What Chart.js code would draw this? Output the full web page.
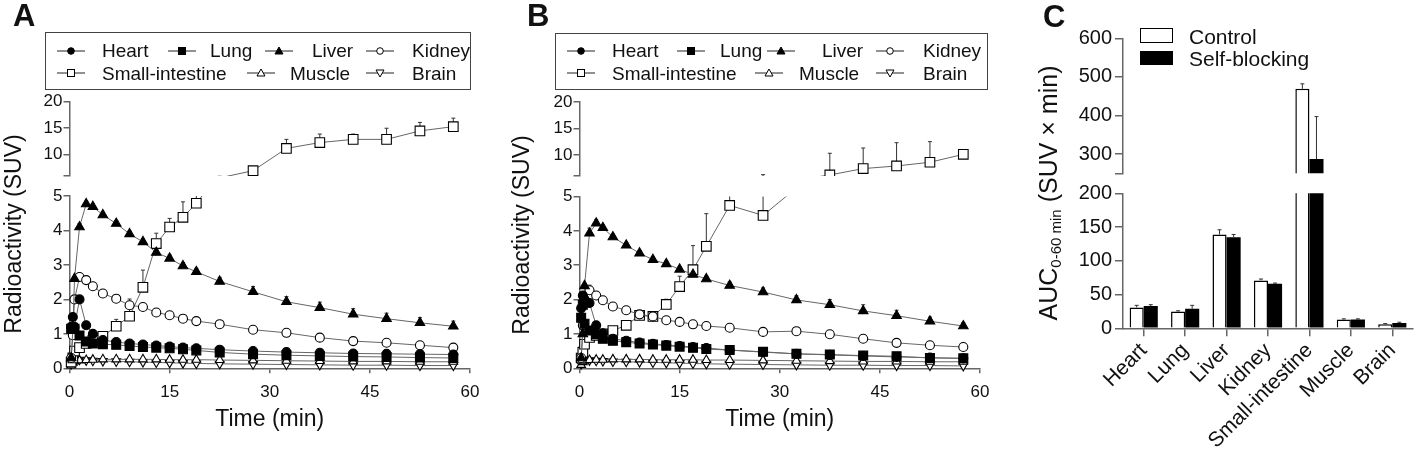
<!DOCTYPE html>
<html>
<head>
<meta charset="utf-8">
<title>Biodistribution</title>
<script src="https://cdn.jsdelivr.net/npm/chart.js@4.4.1/dist/chart.umd.min.js"></script>
<style>
  html, body { margin: 0; padding: 0; background: #fff; }
  body { position: relative; width: 1416px; height: 461px; overflow: hidden;
         font-family: "Liberation Sans", Arial, sans-serif; color: #111; }
  canvas { position: absolute; left: 0; top: 0; }
  .txt { position: absolute; line-height: 1; white-space: nowrap; }
  .letter { font-weight: bold; font-size: 31px; }
  .legend { position: absolute; border: 1.5px solid #444; box-sizing: border-box; }
  .ytitle { position: absolute; line-height: 1; white-space: nowrap; transform: translate(-50%, -50%) rotate(-90deg); }
</style>
</head>
<body>
<script>
// ---- data ----
const organs = ['Heart', 'Lung', 'Liver', 'Kidney', 'Small-intestine', 'Muscle', 'Brain'];
const times = [0.25, 0.5, 0.75, 1.5, 2.5, 3.5, 5, 7, 9, 11, 13, 15, 17, 19, 22.5, 27.5, 32.5, 37.5, 42.5, 47.5, 52.5, 57.5];

// panel A (control)
const heartA  = [1.2, 1.49, 1.2, 2.0, 1.25, 1.0, 0.82, 0.76, 0.72, 0.69, 0.66, 0.63, 0.6, 0.58, 0.54, 0.5, 0.47, 0.45, 0.43, 0.42, 0.41, 0.4];
const lungA   = [1.15, 1.18, 1.15, 0.95, 0.78, 0.72, 0.7, 0.68, 0.65, 0.62, 0.6, 0.58, 0.55, 0.52, 0.46, 0.41, 0.38, 0.36, 0.34, 0.33, 0.31, 0.3];
const liverA  = [0.3, 1.1, 2.6, 4.1, 4.77, 4.69, 4.45, 4.2, 3.9, 3.67, 3.36, 3.19, 2.97, 2.8, 2.52, 2.22, 1.93, 1.76, 1.57, 1.44, 1.32, 1.22];
const kidneyA = [0.3, 0.96, 2.0, 2.65, 2.56, 2.38, 2.17, 2.02, 1.83, 1.78, 1.62, 1.54, 1.44, 1.37, 1.28, 1.12, 1.03, 0.89, 0.79, 0.74, 0.67, 0.6];
const siA     = [0.18, 0.3, 0.5, 0.6, 0.72, 0.81, 0.93, 1.22, 1.51, 2.35, 3.62, 4.1, 4.38, 4.79, 5.65, 7.0, 11.2, 12.3, 12.9, 12.9, 14.5, 15.3];
const muscleA = [0.08, 0.16, 0.2, 0.23, 0.24, 0.25, 0.26, 0.26, 0.26, 0.26, 0.26, 0.25, 0.25, 0.25, 0.24, 0.23, 0.22, 0.21, 0.2, 0.2, 0.19, 0.19];
const brainA  = [0.12, 0.22, 0.26, 0.25, 0.23, 0.22, 0.21, 0.2, 0.19, 0.18, 0.17, 0.16, 0.15, 0.14, 0.13, 0.12, 0.11, 0.1, 0.09, 0.09, 0.08, 0.08];
const liverErrA  = [0, 0, 0, 0.1, 0.08, 0.08, 0.08, 0.08, 0.08, 0.08, 0.08, 0.1, 0.1, 0.1, 0.12, 0.15, 0.15, 0.16, 0.16, 0.16, 0.15, 0.15];
const kidneyErrA = [0, 0, 0, 0.05, 0.05, 0.05, 0.05, 0.05, 0.05, 0.05, 0.05, 0.05, 0.05, 0.08, 0.05, 0.05, 0.05, 0.05, 0.05, 0.05, 0.05, 0.05];
const siErrA     = [0, 0, 0, 0, 0, 0.05, 0.1, 0.2, 0.5, 0.5, 0.3, 0.25, 0.45, 0.23, 0.3, 0.5, 1.7, 1.6, 1.0, 2.1, 1.6, 1.6];

// panel B (self-blocking)
const heartB  = [1.75, 2.12, 2.0, 1.9, 1.25, 1.02, 0.86, 0.8, 0.75, 0.71, 0.68, 0.65, 0.62, 0.59, 0.53, 0.47, 0.42, 0.39, 0.36, 0.33, 0.31, 0.29];
const lungB   = [1.47, 1.85, 1.3, 1.1, 1.0, 0.86, 0.8, 0.76, 0.72, 0.69, 0.66, 0.63, 0.6, 0.56, 0.53, 0.48, 0.42, 0.4, 0.37, 0.35, 0.3, 0.29];
const liverB  = [0.3, 1.0, 2.4, 3.93, 4.22, 4.09, 3.82, 3.58, 3.35, 3.16, 3.04, 2.88, 2.73, 2.6, 2.41, 2.22, 1.99, 1.85, 1.67, 1.53, 1.37, 1.23];
const kidneyB = [0.3, 1.25, 2.0, 2.27, 2.12, 1.98, 1.8, 1.69, 1.57, 1.51, 1.4, 1.35, 1.28, 1.23, 1.18, 1.06, 1.08, 0.99, 0.86, 0.74, 0.67, 0.62];
const siB     = [0.3, 0.47, 0.7, 0.9, 0.96, 1.0, 1.1, 1.25, 1.54, 1.51, 1.86, 2.38, 2.87, 3.55, 4.74, 4.45, 5.25, 6.2, 7.4, 7.9, 8.6, 10.1];
const muscleB = [0.1, 0.18, 0.22, 0.24, 0.25, 0.25, 0.26, 0.26, 0.26, 0.25, 0.25, 0.25, 0.25, 0.24, 0.24, 0.23, 0.22, 0.21, 0.2, 0.2, 0.19, 0.19];
const brainB  = [0.12, 0.2, 0.24, 0.23, 0.22, 0.21, 0.2, 0.19, 0.18, 0.17, 0.16, 0.15, 0.14, 0.13, 0.12, 0.11, 0.1, 0.09, 0.09, 0.08, 0.08, 0.07];
const liverErrB  = [0, 0, 0, 0.15, 0.1, 0.08, 0.08, 0.08, 0.08, 0.08, 0.08, 0.08, 0.08, 0.08, 0.1, 0.12, 0.12, 0.15, 0.18, 0.16, 0.12, 0.1];
const kidneyErrB = [0, 0, 0, 0.15, 0.05, 0.05, 0.05, 0.05, 0.05, 0.05, 0.05, 0.05, 0.05, 0.05, 0.05, 0.05, 0.05, 0.08, 0.05, 0.05, 0.05, 0.05];
const siErrB     = [0, 0, 0, 0, 0, 0, 0.05, 0.1, 0.1, 0.1, 0.15, 0.3, 0.7, 0.95, 0.35, 1.8, 0.5, 4.1, 3.9, 4.4, 3.9, 0.2];

// panel C (AUC 0-60 min)
const aucControl = [31, 25, 139, 71, 469, 13, 6];
const aucBlock   = [33, 29, 135, 66, 287, 13, 8];
const errControl = [3, 1, 7, 2, 13, 1, 1];
const errBlock   = [2, 5, 4, 1, 110, 1, 1];

// ticks
const timeTicks = [0, 15, 30, 45, 60];
const timeTickLabels = ['0', '15', '30', '45', '60'];
const suvLowTicks = [0, 1, 2, 3, 4, 5];
const suvLowLabels = ['0', '1', '2', '3', '4', '5'];
const suvHighTicks = [6, 10, 15, 20];
const suvHighLabels = ['', '10', '15', '20'];
const aucLowTicks = [0, 50, 100, 150, 200];
const aucLowLabels = ['0', '50', '100', '150', '200'];
const aucHighTicks = [250, 300, 400, 500, 600];
const aucHighLabels = ['', '300', '400', '500', '600'];

// ---- styles / layout ----
const W = 1416, H = 461;
const AXIS = '#666';
const LINE = '#666';
const organStyle = [
  {shape: 'circle', r: 4.5, fill: '#000'},
  {shape: 'rect', r: 6.3, fill: '#000'},
  {shape: 'triangle', r: 5.5, fill: '#000'},
  {shape: 'circle', r: 4.5, fill: '#fff'},
  {shape: 'rect', r: 6.8, fill: '#fff'},
  {shape: 'triangle', r: 5, fill: '#fff'},
  {shape: 'triangle', r: 5, fill: '#fff', rot: 180}
];

Chart.defaults.font.family = '"Liberation Sans", Arial, sans-serif';
Chart.defaults.color = '#111';
Chart.defaults.animation = false;
Chart.defaults.plugins.legend.display = false;
Chart.defaults.plugins.tooltip.enabled = false;

const errorBars = {
  id: 'errorBars',
  beforeDatasetsDraw(chart) {
    const {ctx, chartArea} = chart;
    ctx.save();
    ctx.beginPath();
    ctx.rect(chartArea.left - 10, chartArea.top, chartArea.right - chartArea.left + 20, chartArea.bottom - chartArea.top);
    ctx.clip();
    ctx.strokeStyle = '#333';
    ctx.lineWidth = 1;
    chart.data.datasets.forEach((ds, i) => {
      if (!ds.errors) return;
      const meta = chart.getDatasetMeta(i);
      const yScale = chart.scales[meta.yAxisID];
      meta.data.forEach((el, j) => {
        const d = ds.data[j];
        const v = (d !== null && typeof d === 'object') ? d.y : d;
        const e = ds.errors[j];
        if (v === null || v === undefined || !e) return;
        const y0 = yScale.getPixelForValue(v);
        const y1 = yScale.getPixelForValue(v + e);
        ctx.beginPath();
        ctx.moveTo(el.x, y0);
        ctx.lineTo(el.x, y1);
        ctx.moveTo(el.x - 2, y1);
        ctx.lineTo(el.x + 2, y1);
        ctx.stroke();
      });
    });
    ctx.restore();
  }
};

function newCtx() {
  const c = document.createElement('canvas');
  c.width = W; c.height = H;
  c.style.width = W + 'px'; c.style.height = H + 'px';
  document.body.appendChild(c);
  return c.getContext('2d');
}

function padFor(box, showX) {
  return {left: box.l - box.yw, right: W - box.r, top: box.t, bottom: H - box.b - (showX ? box.xh : 0)};
}

function yScaleCfg(box, min, max, vals, labels, fs, tl, pad) {
  return {
    type: 'linear', min: min, max: max,
    afterBuildTicks: s => { s.ticks = vals.map(v => ({value: v})); },
    afterFit: s => { s.width = box.yw; },
    ticks: {font: {size: fs}, color: '#111', padding: pad, autoSkip: false, callback: (v, i) => labels[i]},
    grid: {drawOnChartArea: false, drawTicks: true, tickLength: tl, color: AXIS, lineWidth: 1.5},
    border: {display: true, color: AXIS, width: 1.5}
  };
}

function timeChart(box, showX, ymin, ymax, yVals, yLabels, series, errs, clip) {
  const datasets = organs.map((name, k) => {
    const st = organStyle[k];
    return {
      label: name,
      data: times.map((t, i) => ({x: t, y: series[k][i]})),
      errors: errs[k],
      borderColor: LINE, borderWidth: 1,
      pointStyle: st.shape, pointRotation: st.rot || 0,
      // markers that fall into the axis break are not drawn
      pointRadius: c => {
        const v = c.raw ? c.raw.y : null;
        return (v === null || v < ymin || v > ymax) ? 0 : st.r;
      },
      pointBackgroundColor: st.fill, pointBorderColor: '#000', pointBorderWidth: 1.1,
      tension: 0, clip: clip
    };
  });
  return new Chart(newCtx(), {
    type: 'line',
    data: {datasets: datasets},
    options: {
      responsive: false,
      layout: {padding: padFor(box, showX)},
      scales: {
        x: {
          type: 'linear', min: 0, max: 60, display: showX,
          afterBuildTicks: s => { s.ticks = timeTicks.map(v => ({value: v})); },
          afterFit: s => { s.height = box.xh; },
          ticks: {font: {size: 17}, color: '#111', padding: 9, autoSkip: false, maxRotation: 0, callback: (v, i) => timeTickLabels[i]},
          grid: {drawOnChartArea: false, drawTicks: true, tickLength: 5, color: AXIS, lineWidth: 1.5},
          border: {display: true, color: AXIS, width: 1.5},
          title: {display: true, text: 'Time (min)', font: {size: 23}, color: '#111', padding: 0}
        },
        y: yScaleCfg(box, ymin, ymax, yVals, yLabels, 17, 6, 1)
      }
    },
    plugins: [errorBars]
  });
}

function aucChart(box, showX, ymin, ymax, yVals, yLabels, keep) {
  return new Chart(newCtx(), {
    type: 'bar',
    data: {
      labels: organs,
      datasets: [
        {label: 'Control', data: aucControl.map(keep), errors: errControl,
         backgroundColor: '#fff', borderColor: '#000', borderWidth: 1.5,
         clip: {left: 5, right: 5, top: 0, bottom: 0}},
        {label: 'Self-blocking', data: aucBlock.map(keep), errors: errBlock,
         backgroundColor: '#000', borderColor: '#000', borderWidth: 0,
         clip: {left: 5, right: 5, top: 0, bottom: 0}}
      ]
    },
    options: {
      responsive: false,
      layout: {padding: padFor(box, showX)},
      datasets: {bar: {categoryPercentage: 0.68, barPercentage: 1}},
      scales: {
        x: {
          type: 'category', display: showX, offset: true,
          afterFit: s => { s.height = box.xh; },
          ticks: {font: {size: 21}, color: '#111', padding: 2, autoSkip: false, minRotation: 45, maxRotation: 45},
          grid: {offset: false, drawOnChartArea: false, drawTicks: true, tickLength: 8, color: AXIS, lineWidth: 1.5},
          border: {display: true, color: AXIS, width: 1.5}
        },
        y: yScaleCfg(box, ymin, ymax, yVals, yLabels, 20, 8, 3)
      }
    },
    plugins: [errorBars]
  });
}

const seriesA = [heartA, lungA, liverA, kidneyA, siA, muscleA, brainA];
const seriesB = [heartB, lungB, liverB, kidneyB, siB, muscleB, brainB];
const errsA = [null, null, liverErrA, kidneyErrA, siErrA, null, null];
const errsB = [null, null, liverErrB, kidneyErrB, siErrB, null, null];

const boxATop = {l: 69.5, r: 470, t: 101.7, b: 176, yw: 40, xh: 0};
const boxABot = {l: 69.5, r: 470, t: 196, b: 368.3, yw: 40, xh: 65};
const boxBTop = {l: 579.5, r: 980, t: 102, b: 176, yw: 40, xh: 0};
const boxBBot = {l: 579.5, r: 980, t: 196.5, b: 368.3, yw: 40, xh: 65};
const boxCTop = {l: 1123, r: 1413, t: 38.3, b: 173.3, yw: 60, xh: 0};
const boxCBot = {l: 1123, r: 1413, t: 193.3, b: 328.3, yw: 60, xh: 132};

const clipTop = {left: 10, right: 10, top: 10, bottom: 0};
const clipBot = {left: 10, right: 10, top: 0, bottom: 6};

timeChart(boxATop, false, 6, 20, suvHighTicks, suvHighLabels, seriesA, errsA, clipTop);
timeChart(boxABot, true, 0, 5, suvLowTicks, suvLowLabels, seriesA, errsA, clipBot);
timeChart(boxBTop, false, 6, 20, suvHighTicks, suvHighLabels, seriesB, errsB, clipTop);
timeChart(boxBBot, true, 0, 5, suvLowTicks, suvLowLabels, seriesB, errsB, clipBot);
aucChart(boxCTop, false, 250, 600, aucHighTicks, aucHighLabels, v => (v > 250 ? v : null));
aucChart(boxCBot, true, 0, 200, aucLowTicks, aucLowLabels, v => v);

// ---- text and legends ----
function addText(html, left, centerY, size, extra) {
  const d = document.createElement('div');
  d.className = 'txt';
  d.style.left = left + 'px';
  d.style.top = (centerY - size * 0.49) + 'px';
  d.style.fontSize = size + 'px';
  if (extra) d.style.cssText += extra;
  d.innerHTML = html;
  document.body.appendChild(d);
  return d;
}

function addYTitle(html, cx, cy, size) {
  const d = document.createElement('div');
  d.className = 'ytitle';
  d.style.left = cx + 'px';
  d.style.top = cy + 'px';
  d.style.fontSize = size + 'px';
  d.innerHTML = html;
  document.body.appendChild(d);
}

function icon(st, x, cy) {
  let shape;
  const f = st.fill, s = 'stroke="#000" stroke-width="1"';
  if (st.shape === 'circle') shape = `<circle cx="14" cy="7" r="3.3" fill="${f}" ${s}/>`;
  else if (st.shape === 'rect') shape = `<rect x="10.5" y="3.5" width="7" height="7" fill="${f}" ${s}/>`;
  else if (st.rot) shape = `<polygon points="10,4 18,4 14,11" fill="${f}" ${s}/>`;
  else shape = `<polygon points="14,3 18,10 10,10" fill="${f}" ${s}/>`;
  const d = document.createElement('div');
  d.style.cssText = `position:absolute;left:${x}px;top:${cy - 7}px;width:28px;height:14px`;
  d.innerHTML = `<svg width="28" height="14"><line x1="0" y1="7" x2="28" y2="7" stroke="#555" stroke-width="1.3"/>${shape}</svg>`;
  document.body.appendChild(d);
}

function legendBox(l, t, w, h, lineX, textX) {
  const b = document.createElement('div');
  b.className = 'legend';
  b.style.cssText += `left:${l}px;top:${t}px;width:${w}px;height:${h}px`;
  document.body.appendChild(b);
  const rowY = [50.5, 73];
  const rows = [0, 0, 0, 0, 1, 1, 1];
  organs.forEach((name, k) => {
    icon(organStyle[k], lineX[k], rowY[rows[k]]);
    addText(name, textX[k], rowY[rows[k]], 19);
  });
}

legendBox(45, 32, 426, 58, [57, 168, 265, 366, 57, 247, 366], [102, 210, 312, 412, 102, 290, 412]);
legendBox(555, 33, 433, 57, [567, 677, 767, 876, 567, 755, 876], [612, 720, 822, 923, 612, 799, 923]);

const la = addText('A', 13, 15.5, 31); la.classList.add('letter');
const lb = addText('B', 527, 15.5, 31); lb.classList.add('letter');
const lc = addText('C', 1043, 16, 31); lc.classList.add('letter');

addYTitle('Radioactivity (SUV)', 13, 234, 23);
addYTitle('Radioactivity (SUV)', 521, 235, 23);
addYTitle('AUC<span style="font-size:15px;position:relative;top:4px">0-60 min</span> (SUV × min)', 1048, 193, 25);

// panel C legend
const sw1 = document.createElement('div');
sw1.style.cssText = 'position:absolute;left:1140px;top:28px;width:33px;height:15px;border:1.5px solid #000;box-sizing:border-box;background:#fff';
document.body.appendChild(sw1);
const sw2 = document.createElement('div');
sw2.style.cssText = 'position:absolute;left:1140px;top:51px;width:33px;height:14px;background:#000';
document.body.appendChild(sw2);
addText('Control', 1189, 36, 21);
addText('Self-blocking', 1189, 58.5, 21);
</script>
</body>
</html>
